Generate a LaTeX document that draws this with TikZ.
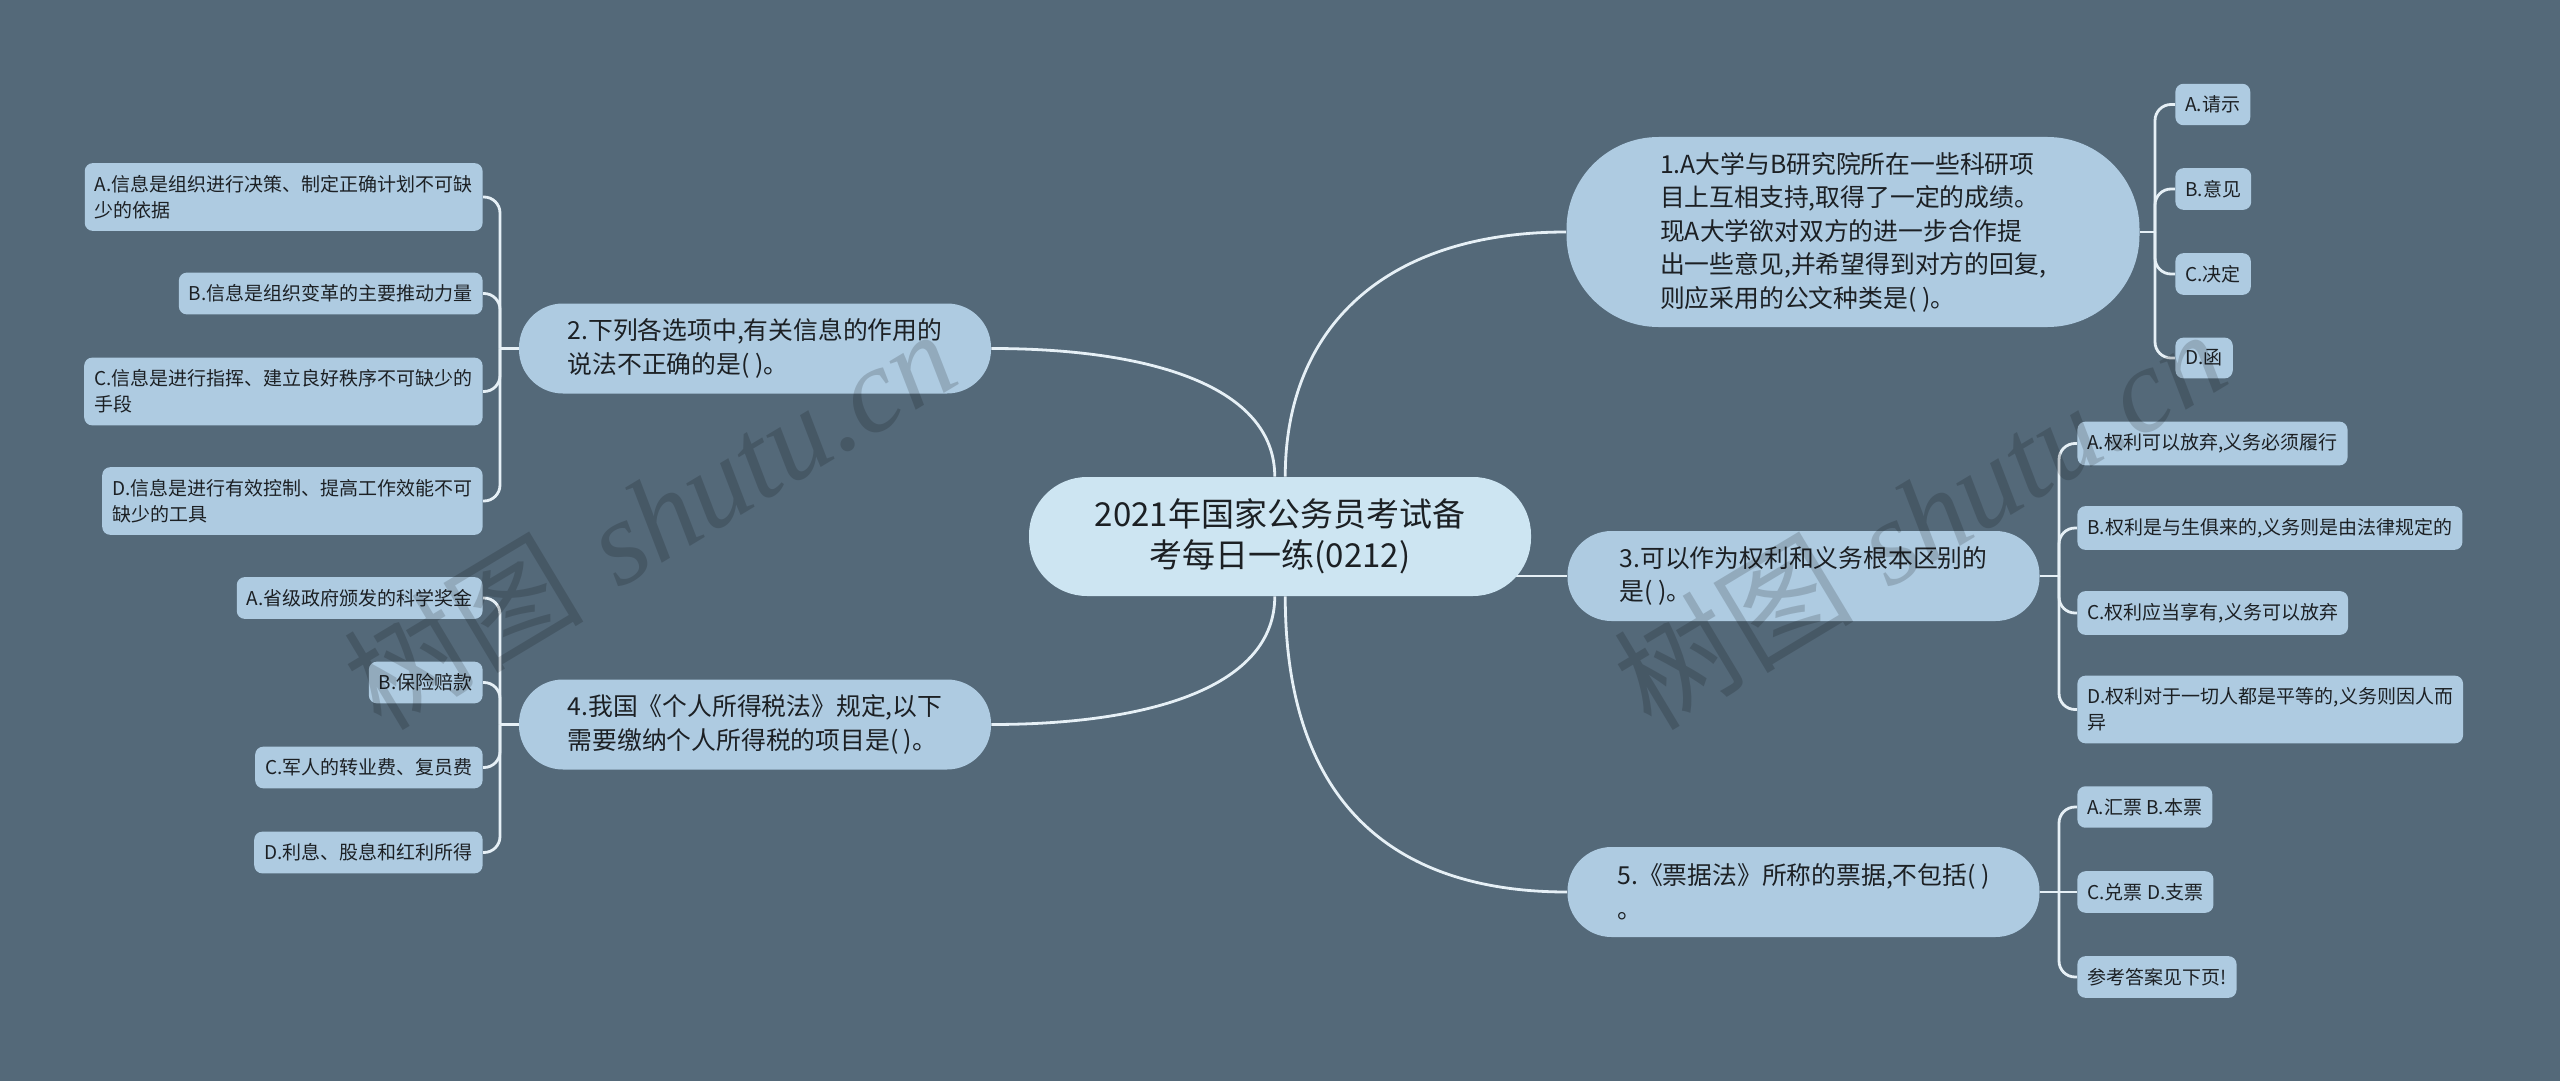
\documentclass[tikz,border=0pt]{standalone}
\usepackage{fontspec}
\newfontfamily\cjk{Noto Sans CJK SC}
\newfontfamily\wmfont{Liberation Serif}
\usetikzlibrary{positioning}
\definecolor{slate}{RGB}{84,105,121}
\definecolor{paleblue}{RGB}{174,203,225}
\definecolor{iceblue}{RGB}{205,229,242}
\definecolor{inkgray}{RGB}{28,32,36}
\definecolor{wirewhite}{RGB}{230,240,246}
\pgfdeclarelayer{bg}
\pgfsetlayers{bg,main}
\tikzset{
  hub/.style={fill=iceblue,text=inkgray,rounded corners=29pt,minimum width=251pt,minimum height=59.5pt,inner sep=0pt,align=center,font=\cjk\fontsize{16.5}{20.5}\selectfont},
  topic/.style={fill=paleblue,text=inkgray,rounded corners=22pt,minimum width=236pt,minimum height=45pt,inner sep=0pt,align=left,font=\cjk\fontsize{12.4}{16.75}\selectfont},
  leaf/.style={fill=paleblue,text=inkgray,rounded corners=4pt,inner xsep=5pt,inner ysep=6pt,align=left,font=\cjk\fontsize{9.5}{13}\selectfont},
  wire/.style={draw=wirewhite,line width=1.4pt},
  twig/.style={wire,rounded corners=8pt},
  wmark/.style={text=black,text opacity=0.16,rotate=31,inner sep=0pt,font=\fontsize{60}{60}\selectfont}
}
\begin{document}
\begin{tikzpicture}[x=0.5pt,y=-0.5pt,line cap=round,line join=round]
\useasboundingbox (0,0) rectangle (2560,1081);
\node[hub] (hub) at (1280,536.5) {2021年国家公务员考试备\\考每日一练(0212)};
\node[topic,minimum width=286.5pt,minimum height=95pt,rounded corners=46pt] (q1) at (1853,232)
  {1.A大学与B研究院所在一些科研项\\目上互相支持,取得了一定的成绩。\\现A大学欲对双方的进一步合作提\\出一些意见,并希望得到对方的回复,\\则应采用的公文种类是( )。};
\node[topic] (q2) at (755,348.5) {2.下列各选项中,有关信息的作用的\\说法不正确的是( )。};
\node[topic] (q3) at (1803.5,576) {3.可以作为权利和义务根本区别的\\是( )。};
\node[topic] (q4) at (755,724.5) {4.我国《个人所得税法》规定,以下\\需要缴纳个人所得税的项目是( )。};
\node[topic] (q5) at (1803.5,892) {5.《票据法》所称的票据,不包括( )\\。};
\coordinate (j1) at (2155,232);
\coordinate (j2) at (500,348.5);
\coordinate (j3) at (2059,576);
\coordinate (j4) at (500,724.5);
\coordinate (j5) at (2059,892);
\foreach \y/\t [count=\i] in {104.5/{A.请示},189/{B.意见},274/{C.决定},358/{D.函}}
  \node[leaf,anchor=west] (q1a\i) at (2175,\y) {\t};
\foreach \y/\t [count=\i] in {197/{A.信息是组织进行决策、制定正确计划不可缺\\少的依据},293.5/{B.信息是组织变革的主要推动力量},391.5/{C.信息是进行指挥、建立良好秩序不可缺少的\\手段},501/{D.信息是进行有效控制、提高工作效能不可\\缺少的工具}}
  \node[leaf,anchor=east] (q2a\i) at (483,\y) {\t};
\foreach \y/\t [count=\i] in {443.5/{A.权利可以放弃,义务必须履行},528/{B.权利是与生俱来的,义务则是由法律规定的},613/{C.权利应当享有,义务可以放弃},709.5/{D.权利对于一切人都是平等的,义务则因人而\\异}}
  \node[leaf,anchor=west] (q3a\i) at (2077,\y) {\t};
\foreach \y/\t [count=\i] in {598/{A.省级政府颁发的科学奖金},682.5/{B.保险赔款},767.5/{C.军人的转业费、复员费},852.5/{D.利息、股息和红利所得}}
  \node[leaf,anchor=east] (q4a\i) at (483,\y) {\t};
\foreach \y/\t [count=\i] in {807/{A.汇票 B.本票},892/{C.兑票 D.支票},977/{参考答案见下页!}}
  \node[leaf,anchor=west] (q5a\i) at (2077,\y) {\t};
\begin{pgfonlayer}{bg}
\fill[slate] (0,0) rectangle (2560,1081);
\draw[wire] (hub.85) .. controls +(0,-150) and +(-180,0) .. (q1.west);
\draw[wire] (hub.95) .. controls +(0,-90) and +(160,0) .. (q2.east);
\draw[wire] (q3.west) -- (q3.west -| hub.center);
\draw[wire] (hub.-95) .. controls +(0,90) and +(160,0) .. (q4.east);
\draw[wire] (hub.-85) .. controls +(0,200) and +(-180,0) .. (q5.west);
\draw[wire] (q1.east) -- (j1);
\draw[wire] (q2.west) -- (j2);
\draw[wire] (q3.east) -- (j3);
\draw[wire] (q4.west) -- (j4);
\draw[wire] (q5.east) -- (j5);
\foreach \i in {1,...,4} {
  \draw[twig] (j1) |- (q1a\i.west);
  \draw[twig] (j2) |- (q2a\i.east);
  \draw[twig] (j3) |- (q3a\i.west);
  \draw[twig] (j4) |- (q4a\i.east);
}
\draw[twig] (j5) |- (q5a1.west);
\draw[wire] (j5) -- (q5a2.west);
\draw[twig] (j5) |- (q5a3.west);
\end{pgfonlayer}
\node[wmark] (wm1) at (649,518) {{\cjk 树图} {\wmfont\itshape shutu.cn}};
\node[wmark] (wm2) at (1919,518) {{\cjk 树图} {\wmfont\itshape shutu.cn}};
\end{tikzpicture}
\end{document}
